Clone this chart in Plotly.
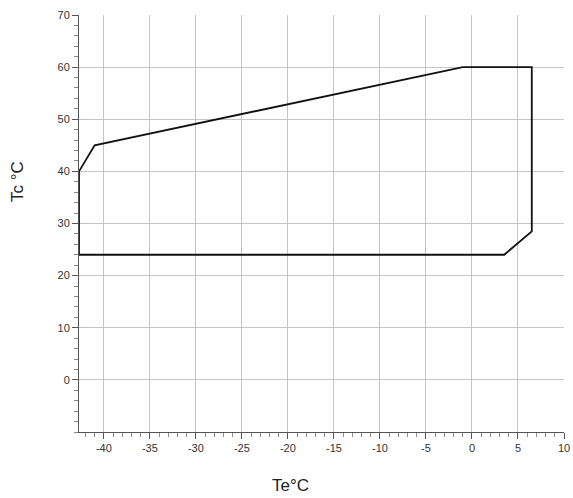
import plotly.graph_objects as go

# Envelope polygon (Te, Tc)
te = [-42.7, -42.7, -41.0, -1.0, 6.5, 6.5, 3.5, -42.7]
tc = [24.0, 40.0, 45.0, 60.0, 60.0, 28.5, 24.0, 24.0]

x_ticks = [-40, -35, -30, -25, -20, -15, -10, -5, 0, 5, 10]
y_ticks = [0, 10, 20, 30, 40, 50, 60, 70]

fig = go.Figure()
fig.add_trace(go.Scatter(x=te, y=tc, mode="lines",
                         line=dict(color="#111111", width=1.8),
                         showlegend=False, hoverinfo="skip"))

font = dict(family="Liberation Sans, Arial, sans-serif", size=11, color="#333333")
tfont = dict(family="Liberation Sans, Arial, sans-serif", size=17, color="#222222")

W, H = 573, 498
L, R, T, B = 79, 9, 15, 66
pw, ph = W - L - R, H - T - B


def px_to_paper(px, py):
    return (px - L) / pw, (H - B - py) / ph


ax, ay = px_to_paper(290, 485)
bx, by = px_to_paper(18, 182)

fig.update_layout(
    width=W, height=H,
    margin=dict(l=L, r=R, t=T, b=B),
    plot_bgcolor="white", paper_bgcolor="white",
    font=font,
    xaxis=dict(
        range=[-42.7, 10], tickvals=x_ticks, ticktext=[str(v) for v in x_ticks],
        showgrid=True, gridcolor="#c4c4c4", gridwidth=1,
        showline=True, linecolor="#555555", linewidth=1,
        ticks="outside", ticklen=6, tickcolor="#555555",
        minor=dict(dtick=1, tick0=0, ticks="outside", ticklen=4, tickcolor="#888888", showgrid=False),
        zeroline=False, tickfont=font, automargin=False,
    ),
    yaxis=dict(
        range=[-10, 70], tickvals=y_ticks, ticktext=[str(v) for v in y_ticks],
        showgrid=True, gridcolor="#c4c4c4", gridwidth=1,
        showline=True, linecolor="#555555", linewidth=1,
        ticks="outside", ticklen=6, tickcolor="#555555",
        minor=dict(dtick=2, tick0=0, ticks="outside", ticklen=4, tickcolor="#888888", showgrid=False),
        zeroline=False, tickfont=font, automargin=False,
    ),
    annotations=[
        dict(text="Te°C", x=ax, y=ay, xref="paper", yref="paper", xanchor="center", yanchor="middle",
             showarrow=False, font=tfont),
        dict(text="Tc °C", x=bx, y=by, xref="paper", yref="paper", xanchor="center", yanchor="middle",
             textangle=-90, showarrow=False, font=tfont),
    ],
)

fig.write_html("out.html", config={"displayModeBar": False},
               post_script="document.body.style.margin='0';document.body.style.overflow='hidden';")
